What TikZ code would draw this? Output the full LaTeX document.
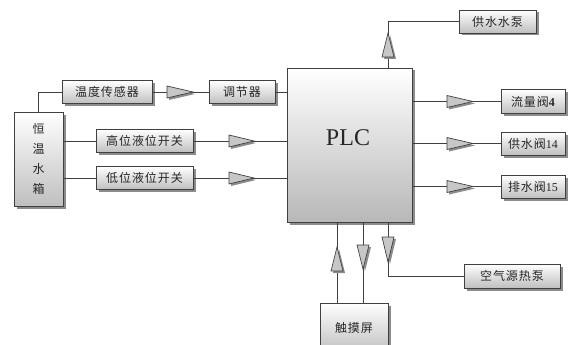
\documentclass[tikz,border=0pt]{standalone}
\usepackage{fontspec}
\setmainfont{Liberation Serif}
\newfontfamily\cjk[LetterSpace=8]{Noto Sans CJK SC}
\newfontfamily\cjkv{Noto Sans CJK SC}
\newfontfamily\lat{Liberation Serif}
\usetikzlibrary{shadows,calc}
\begin{document}
\begin{tikzpicture}[x=1pt,y=-1pt,
  box/.style={draw=black!75, line width=0.8pt, top color=white, bottom color=black!25,
    drop shadow={shadow xshift=2.5pt, shadow yshift=-2.5pt, fill=black!45, opacity=1},
    inner sep=0pt, font=\fontsize{12}{14}\selectfont\cjk, text=black!85},
  conn/.style={draw=black!75, line width=0.8pt},
  tri/.style={draw=black!75, line width=0.7pt, fill=black!22, line join=miter,
    drop shadow={shadow xshift=2pt, shadow yshift=-2pt, fill=black!45, opacity=1}}]
\useasboundingbox (0,0) rectangle (573,345);
\clip (0,0) rectangle (573,345);
% nodes
\node[box, minimum width=49, minimum height=94, align=center,
  font=\fontsize{12}{20}\selectfont\cjkv] (tank) at (38.5,159) {恒\\温\\水\\箱};
\node[box, minimum width=90, minimum height=23] (temp) at (107,92) {温度传感器};
\node[box, minimum width=66, minimum height=23] (reg) at (242,92) {调节器};
\node[box, minimum width=97, minimum height=23] (high) at (144.5,141) {高位液位开关};
\node[box, minimum width=97, minimum height=23] (low) at (144.5,178) {低位液位开关};
\node[box, minimum width=125, minimum height=154, top color=white, bottom color=black!28] (plc) at (349.5,145) {};
\node[font=\fontsize{24}{28}\selectfont\lat, text=black!85] (plct) at (348,138) {PLC};
\node[box, minimum width=77, minimum height=23] (pump) at (497.5,21.5) {供水水泵};
\node[box, minimum width=64, minimum height=24] (flow) at (533,101.5) {流量阀{\lat\bfseries 4}};
\node[box, minimum width=64, minimum height=23] (sv) at (533,143.5) {供水阀{\lat 14}};
\node[box, minimum width=64, minimum height=23] (dv) at (533,186.5) {排水阀{\lat 15}};
\node[box, minimum width=96, minimum height=24] (heat) at (512,276) {空气源热泵};
\node[box, minimum width=68, minimum height=50] (touch) at (354,328) {触摸屏};
\coordinate (xa) at (337,0);
\coordinate (xb) at (363,0);
\coordinate (xc) at (388,0);
% connectors
\draw[conn] (tank.north) |- (temp.west);
\draw[conn] (temp.east) -- (reg.west);
\draw[conn] (reg.east) -- (reg.east -| plc.west);
\draw[conn] (tank.east |- high) -- (high.west);
\draw[conn] (high.east) -- (high.east -| plc.west);
\draw[conn] (tank.east |- low) -- (low.west);
\draw[conn] (low.east) -- (low.east -| plc.west);
\draw[conn] (plc.north -| xc) |- (pump.west);
\draw[conn] (plc.east |- flow) -- (flow.west);
\draw[conn] (plc.east |- sv) -- (sv.west);
\draw[conn] (plc.east |- dv) -- (dv.west);
\draw[conn] (plc.south -| xc) |- (heat.west);
\draw[conn] (touch.north -| xa) -- (plc.south -| xa);
\draw[conn] (touch.north -| xb) -- (plc.south -| xb);
% triangles
\draw[tri] (167,86) -- (193,92) -- (167,98) -- cycle;
\draw[tri] (229,135) -- (254,141) -- (229,147) -- cycle;
\draw[tri] (229,172) -- (254,178) -- (229,184) -- cycle;
\draw[tri] (447,95.5) -- (473,101.5) -- (447,107.5) -- cycle;
\draw[tri] (447,137.5) -- (473,143.5) -- (447,149.5) -- cycle;
\draw[tri] (447,180.5) -- (473,186.5) -- (447,192.5) -- cycle;
\draw[tri] (382,57) -- (388,33) -- (394,57) -- cycle;
\draw[tri] (331,271) -- (337,247) -- (343,271) -- cycle;
\draw[tri] (357,245) -- (363,269) -- (369,245) -- cycle;
\draw[tri] (382,237) -- (388,262) -- (394,237) -- cycle;
\end{tikzpicture}
\end{document}
